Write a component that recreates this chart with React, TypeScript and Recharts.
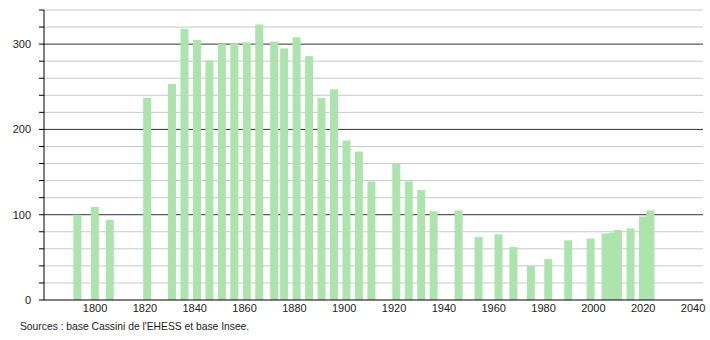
import { BarChart, Bar, XAxis, YAxis, CartesianGrid } from "recharts";

const years = [
  1793, 1800, 1806, 1821, 1831, 1836, 1841, 1846, 1851, 1856, 1861, 1866,
  1872, 1876, 1881, 1886, 1891, 1896, 1901, 1906, 1911, 1921, 1926, 1931,
  1936, 1946, 1954, 1962, 1968, 1975, 1982, 1990, 1999, 2005, 2008, 2010,
  2015, 2020, 2023,
];
const population = [
  100, 109, 94, 237, 253, 318, 305, 281, 300, 301, 302, 323,
  303, 295, 308, 286, 237, 247, 187, 174, 139, 160, 139, 129,
  104, 105, 74, 77, 62, 40, 48, 70, 72, 78, 79, 82,
  84, 98, 105,
];
const xTicks = [1800, 1820, 1840, 1860, 1880, 1900, 1920, 1940, 1960, 1980, 2000, 2020, 2040];
const yTicks = [0, 20, 40, 60, 80, 100, 120, 140, 160, 180, 200, 220, 240, 260, 280, 300, 320, 340];
const minorLines = [20, 40, 60, 80, 120, 140, 160, 180, 220, 240, 260, 280, 320, 340];
const majorLines = [100, 200, 300];

const data = years.map((year, i) => ({ year, pop: population[i] }));

const font = "'Liberation Sans', Arial, sans-serif";

const YTick = (props: any) => {
  const { x, y, payload } = props;
  if (payload.value % 100 !== 0) return null;
  return (
    <text x={x} y={y} dy={4} textAnchor="end" fontSize={11} fill="#222" fontFamily={font}>
      {payload.value}
    </text>
  );
};

// bars are 8px wide in the original, wider than the gap between close census years
const BarShape = (props: any) => {
  const { x, y, width, height, fill } = props;
  if (!height) return null;
  return <rect x={x + width / 2 - 4} y={y} width={8} height={height} fill={fill} />;
};

export default function App() {
  return (
    <div style={{ position: "absolute", left: 0, top: 0, width: 710, height: 340, background: "#fff" }}>
      <BarChart
        width={710}
        height={340}
        data={data}
        margin={{ top: 10, right: 7, bottom: 0, left: 0 }}
      >
        <CartesianGrid vertical={false} horizontalValues={minorLines} stroke="#c8c8c8" />
        <CartesianGrid vertical={false} horizontalValues={majorLines} stroke="#333" />
        <XAxis
          dataKey="year"
          type="number"
          domain={[1779.5, 2044]}
          allowDataOverflow
          ticks={xTicks}
          height={40}
          tickLine={false}
          tickSize={0}
          tickMargin={4}
          axisLine={{ stroke: "#000" }}
          tick={{ fontSize: 11, fill: "#222", fontFamily: font }}
        />
        <YAxis
          type="number"
          domain={[0, 340]}
          ticks={yTicks}
          width={44}
          interval={0}
          tickSize={5}
          tickMargin={8}
          axisLine={{ stroke: "#000" }}
          tickLine={{ stroke: "#000" }}
          tick={<YTick />}
        />
        <Bar dataKey="pop" fill="#ade3ad" barSize={8} shape={<BarShape />} isAnimationActive={false} />
      </BarChart>
      <div
        style={{
          position: "absolute",
          left: 20,
          top: 321,
          fontFamily: font,
          fontSize: 10.3,
          color: "#222",
          whiteSpace: "nowrap",
        }}
      >
        Sources : base Cassini de l'EHESS et base Insee.
      </div>
    </div>
  );
}
